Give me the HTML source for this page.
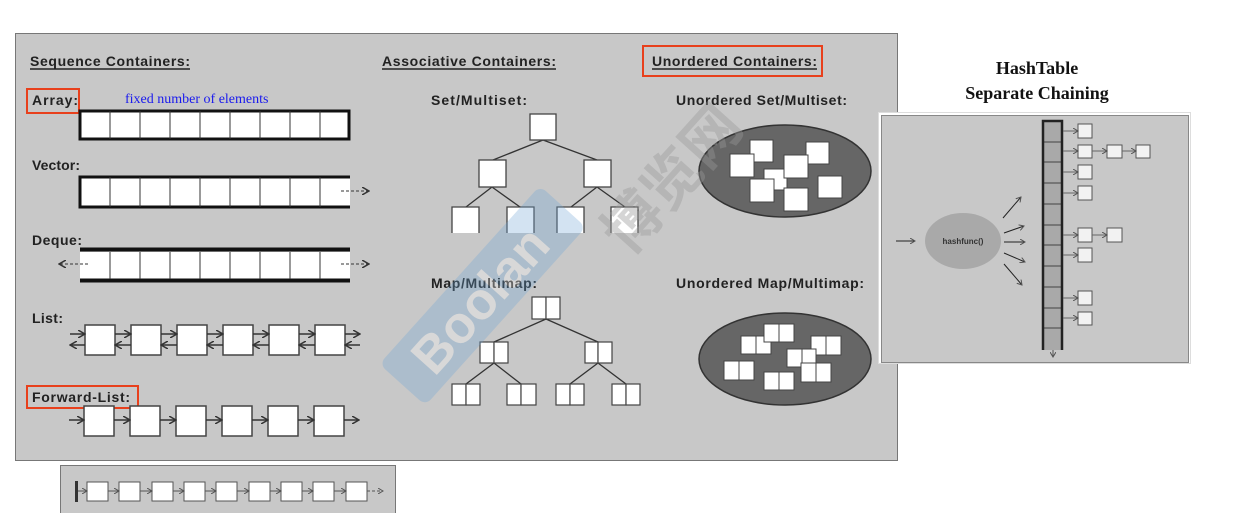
<!DOCTYPE html>
<html><head><meta charset="utf-8"><style>
html,body{margin:0;padding:0;background:#fff;width:1244px;height:513px;overflow:hidden}
.s{font-family:"Liberation Sans",Arial,sans-serif}
</style></head><body>
<svg width="1244" height="513" viewBox="0 0 1244 513" xmlns="http://www.w3.org/2000/svg">
<defs>
<marker id="ah" markerWidth="8" markerHeight="8" refX="7" refY="4" orient="auto" markerUnits="userSpaceOnUse"><path d="M0,0 L7,4 L0,8" fill="none" stroke="#333" stroke-width="1.5"/></marker>
<marker id="as" markerWidth="6" markerHeight="6" refX="5" refY="3" orient="auto" markerUnits="userSpaceOnUse"><path d="M0,0 L5,3 L0,6" fill="none" stroke="#555" stroke-width="1"/></marker>
</defs>
<rect x="15.5" y="33.5" width="882" height="427" fill="#c8c8c8" stroke="#777" stroke-width="1"/>
<rect x="60.5" y="465.5" width="335" height="50" fill="#c8c8c8" stroke="#777"/>
<g font-weight="bold" font-size="14" fill="#222" style="font-family:'Liberation Sans',Arial,sans-serif" lengthAdjust="spacingAndGlyphs">
<text x="30" y="66" textLength="160">Sequence Containers:</text>
<text x="382" y="66" textLength="174">Associative Containers:</text>
<text x="652" y="66" textLength="165">Unordered Containers:</text>
<text x="32" y="105" textLength="46">Array:</text>
<text x="32" y="170" textLength="48">Vector:</text>
<text x="32" y="245" textLength="50">Deque:</text>
<text x="32" y="323" textLength="31">List:</text>
<text x="32" y="402" textLength="98">Forward-List:</text>
<text x="431" y="105" textLength="96">Set/Multiset:</text>
<text x="676" y="105" textLength="171">Unordered Set/Multiset:</text>
<text x="431" y="288" textLength="106">Map/Multimap:</text>
<text x="676" y="288" textLength="188">Unordered Map/Multimap:</text>
</g>
<line x1="30" y1="69" x2="190" y2="69" stroke="#222" stroke-width="1.5"/>
<line x1="382" y1="69" x2="556" y2="69" stroke="#222" stroke-width="1.5"/>
<line x1="652" y1="69" x2="817" y2="69" stroke="#222" stroke-width="1.5"/>
<rect x="643" y="46" width="179" height="30" fill="none" stroke="#e8401c" stroke-width="2"/>
<rect x="27" y="89" width="52" height="24" fill="none" stroke="#e8401c" stroke-width="2"/>
<rect x="27" y="386" width="111" height="22" fill="none" stroke="#e8401c" stroke-width="2"/>
<text x="125" y="103" font-size="14" fill="#1a1aee" style="font-family:'Liberation Serif',serif">fixed number of elements</text>
<rect x="80" y="111" width="269" height="28" fill="#fff" stroke="#111" stroke-width="3"/>
<g stroke="#333" stroke-width="1">
<line x1="110" y1="111" x2="110" y2="139"/><line x1="140" y1="111" x2="140" y2="139"/><line x1="170" y1="111" x2="170" y2="139"/><line x1="200" y1="111" x2="200" y2="139"/><line x1="230" y1="111" x2="230" y2="139"/><line x1="260" y1="111" x2="260" y2="139"/><line x1="290" y1="111" x2="290" y2="139"/><line x1="320" y1="111" x2="320" y2="139"/>
</g>
<rect x="80" y="177" width="270" height="30" fill="#fff"/>
<path d="M350,177 H80 V207 H350" fill="none" stroke="#111" stroke-width="3"/>
<g stroke="#333" stroke-width="1">
<line x1="110" y1="177" x2="110" y2="207"/><line x1="140" y1="177" x2="140" y2="207"/><line x1="170" y1="177" x2="170" y2="207"/><line x1="200" y1="177" x2="200" y2="207"/><line x1="230" y1="177" x2="230" y2="207"/><line x1="260" y1="177" x2="260" y2="207"/><line x1="290" y1="177" x2="290" y2="207"/><line x1="320" y1="177" x2="320" y2="207"/>
</g>
<line x1="341" y1="191" x2="369" y2="191" stroke="#333" stroke-dasharray="3,2" marker-end="url(#ah)"/>
<rect x="80" y="252" width="270" height="27" fill="#fff"/>
<line x1="80" y1="249.5" x2="350" y2="249.5" stroke="#111" stroke-width="4"/>
<line x1="80" y1="280.5" x2="350" y2="280.5" stroke="#111" stroke-width="4"/>
<g stroke="#333" stroke-width="1">
<line x1="110" y1="252" x2="110" y2="279"/><line x1="140" y1="252" x2="140" y2="279"/><line x1="170" y1="252" x2="170" y2="279"/><line x1="200" y1="252" x2="200" y2="279"/><line x1="230" y1="252" x2="230" y2="279"/><line x1="260" y1="252" x2="260" y2="279"/><line x1="290" y1="252" x2="290" y2="279"/><line x1="320" y1="252" x2="320" y2="279"/>
</g>
<line x1="88" y1="264" x2="59" y2="264" stroke="#333" stroke-dasharray="3,2" marker-end="url(#ah)"/>
<line x1="341" y1="264" x2="369" y2="264" stroke="#333" stroke-dasharray="3,2" marker-end="url(#ah)"/>
<g stroke="#444" stroke-width="1.5" fill="#fff">
<rect x="85" y="325" width="30" height="30"/><rect x="131" y="325" width="30" height="30"/><rect x="177" y="325" width="30" height="30"/><rect x="223" y="325" width="30" height="30"/><rect x="269" y="325" width="30" height="30"/><rect x="315" y="325" width="30" height="30"/>
</g>
<g stroke="#333" stroke-width="1.5" fill="none">
<line x1="70" y1="334" x2="85" y2="334" marker-end="url(#ah)"/><line x1="85" y1="345" x2="70" y2="345" marker-end="url(#ah)"/>
<line x1="115" y1="334" x2="131" y2="334" marker-end="url(#ah)"/><line x1="131" y1="345" x2="115" y2="345" marker-end="url(#ah)"/>
<line x1="161" y1="334" x2="177" y2="334" marker-end="url(#ah)"/><line x1="177" y1="345" x2="161" y2="345" marker-end="url(#ah)"/>
<line x1="207" y1="334" x2="223" y2="334" marker-end="url(#ah)"/><line x1="223" y1="345" x2="207" y2="345" marker-end="url(#ah)"/>
<line x1="253" y1="334" x2="269" y2="334" marker-end="url(#ah)"/><line x1="269" y1="345" x2="253" y2="345" marker-end="url(#ah)"/>
<line x1="299" y1="334" x2="315" y2="334" marker-end="url(#ah)"/><line x1="315" y1="345" x2="299" y2="345" marker-end="url(#ah)"/>
<line x1="345" y1="334" x2="360" y2="334" marker-end="url(#ah)"/><line x1="360" y1="345" x2="345" y2="345" marker-end="url(#ah)"/>
</g>
<g stroke="#444" stroke-width="1.5" fill="#fff">
<rect x="84" y="406" width="30" height="30"/><rect x="130" y="406" width="30" height="30"/><rect x="176" y="406" width="30" height="30"/><rect x="222" y="406" width="30" height="30"/><rect x="268" y="406" width="30" height="30"/><rect x="314" y="406" width="30" height="30"/>
</g>
<g stroke="#333" stroke-width="1.5">
<line x1="69" y1="420" x2="84" y2="420" marker-end="url(#ah)"/><line x1="114" y1="420" x2="130" y2="420" marker-end="url(#ah)"/><line x1="160" y1="420" x2="176" y2="420" marker-end="url(#ah)"/><line x1="206" y1="420" x2="222" y2="420" marker-end="url(#ah)"/><line x1="252" y1="420" x2="268" y2="420" marker-end="url(#ah)"/><line x1="298" y1="420" x2="314" y2="420" marker-end="url(#ah)"/><line x1="344" y1="420" x2="359" y2="420" marker-end="url(#ah)"/>
</g>
<rect x="75" y="481" width="3" height="21" fill="#333"/>
<g stroke="#555" stroke-width="1" fill="#fff">
<rect x="87" y="482" width="21" height="19"/><rect x="119" y="482" width="21" height="19"/><rect x="152" y="482" width="21" height="19"/><rect x="184" y="482" width="21" height="19"/><rect x="216" y="482" width="21" height="19"/><rect x="249" y="482" width="21" height="19"/><rect x="281" y="482" width="21" height="19"/><rect x="313" y="482" width="21" height="19"/><rect x="346" y="482" width="21" height="19"/>
</g>
<g stroke="#555" stroke-width="1">
<line x1="78" y1="491" x2="87" y2="491" marker-end="url(#as)"/><line x1="108" y1="491" x2="119" y2="491" marker-end="url(#as)"/><line x1="140" y1="491" x2="152" y2="491" marker-end="url(#as)"/><line x1="173" y1="491" x2="184" y2="491" marker-end="url(#as)"/><line x1="205" y1="491" x2="216" y2="491" marker-end="url(#as)"/><line x1="237" y1="491" x2="249" y2="491" marker-end="url(#as)"/><line x1="270" y1="491" x2="281" y2="491" marker-end="url(#as)"/><line x1="302" y1="491" x2="313" y2="491" marker-end="url(#as)"/><line x1="334" y1="491" x2="346" y2="491" marker-end="url(#as)"/><line x1="367" y1="491" x2="383" y2="491" stroke-dasharray="3,2" marker-end="url(#as)"/>
</g>
<g stroke="#333" stroke-width="1.3">
<line x1="543" y1="140" x2="493" y2="160"/><line x1="543" y1="140" x2="597" y2="160"/>
<line x1="492" y1="187" x2="466" y2="207"/><line x1="492" y1="187" x2="520" y2="207"/>
<line x1="597" y1="187" x2="571" y2="207"/><line x1="597" y1="187" x2="625" y2="207"/>
</g>
<g stroke="#444" stroke-width="1.3" fill="#fff">
<rect x="530" y="114" width="26" height="26"/><rect x="479" y="160" width="27" height="27"/><rect x="584" y="160" width="27" height="27"/>
<path d="M452,233 V207 H479 V233"/><path d="M507,233 V207 H534 V233"/><path d="M557,233 V207 H584 V233"/><path d="M611,233 V207 H638 V233"/>
</g>
<g stroke="#333" stroke-width="1.3">
<line x1="546" y1="319" x2="494" y2="342"/><line x1="546" y1="319" x2="598" y2="342"/>
<line x1="494" y1="363" x2="466" y2="384"/><line x1="494" y1="363" x2="521" y2="384"/>
<line x1="598" y1="363" x2="570" y2="384"/><line x1="598" y1="363" x2="626" y2="384"/>
</g>
<g stroke="#444" stroke-width="1.2" fill="#fff">
<rect x="532" y="297" width="14" height="22"/><rect x="546" y="297" width="14" height="22"/>
<rect x="480" y="342" width="14" height="21"/><rect x="494" y="342" width="14" height="21"/>
<rect x="585" y="342" width="13" height="21"/><rect x="598" y="342" width="14" height="21"/>
<rect x="452" y="384" width="14" height="21"/><rect x="466" y="384" width="14" height="21"/>
<rect x="507" y="384" width="14" height="21"/><rect x="521" y="384" width="15" height="21"/>
<rect x="556" y="384" width="14" height="21"/><rect x="570" y="384" width="14" height="21"/>
<rect x="612" y="384" width="14" height="21"/><rect x="626" y="384" width="14" height="21"/>
</g>
<ellipse cx="785" cy="171" rx="86" ry="46" fill="#666" stroke="#333" stroke-width="1.5"/>
<g fill="#fff" stroke="#444" stroke-width="1">
<rect x="750" y="140" width="23" height="22"/><rect x="806" y="142" width="23" height="22"/><rect x="730" y="154" width="24" height="23"/><rect x="764" y="169" width="23" height="21"/><rect x="784" y="155" width="24" height="23"/><rect x="818" y="176" width="24" height="22"/><rect x="750" y="179" width="24" height="23"/><rect x="784" y="188" width="24" height="23"/>
</g>
<ellipse cx="785" cy="359" rx="86" ry="46" fill="#666" stroke="#333" stroke-width="1.5"/>
<g fill="#fff" stroke="#444" stroke-width="1">
<rect x="741" y="336" width="15" height="18"/><rect x="756" y="336" width="15" height="18"/>
<rect x="764" y="324" width="15" height="18"/><rect x="779" y="324" width="15" height="18"/>
<rect x="811" y="336" width="15" height="19"/><rect x="826" y="336" width="15" height="19"/>
<rect x="787" y="349" width="15" height="18"/><rect x="802" y="349" width="14" height="18"/>
<rect x="724" y="361" width="15" height="19"/><rect x="739" y="361" width="15" height="19"/>
<rect x="801" y="363" width="15" height="19"/><rect x="816" y="363" width="15" height="19"/>
<rect x="764" y="372" width="15" height="18"/><rect x="779" y="372" width="15" height="18"/>
</g>
<g transform="rotate(-48 480 300)" opacity="0.3">
<rect x="365" y="268" width="240" height="62" rx="8" fill="#6fa6d6"/>
<text x="392" y="318" font-size="52" font-weight="bold" fill="#fff" style="font-family:'Liberation Sans',sans-serif">Boolan</text>
</g>
<text x="590" y="230" font-size="58" font-weight="bold" fill="#999" opacity="0.4" transform="rotate(-48 640 200)" style="font-family:'Noto Sans CJK SC',sans-serif">博览网</text>
<text x="1037" y="74" text-anchor="middle" font-weight="bold" font-size="18" fill="#111" style="font-family:'Liberation Serif',serif;font-weight:bold">HashTable</text>
<text x="1037" y="99" text-anchor="middle" font-weight="bold" font-size="18" fill="#111" style="font-family:'Liberation Serif',serif;font-weight:bold">Separate Chaining</text>
<rect x="878.5" y="112.5" width="312" height="251" fill="#fff" stroke="#ddd"/>
<rect x="881.5" y="115.5" width="307" height="247" fill="#c8c8c8" stroke="#888"/>
<line x1="896" y1="241" x2="915" y2="241" stroke="#222" marker-end="url(#as)"/>
<ellipse cx="963" cy="241" rx="38" ry="28" fill="#a9a9a9"/>
<text x="963" y="244" text-anchor="middle" font-size="8" font-weight="bold" fill="#333" style="font-family:'Liberation Sans',sans-serif">hashfunc()</text>
<g stroke="#222" stroke-width="1">
<line x1="1003" y1="218" x2="1021" y2="197" marker-end="url(#as)"/>
<line x1="1004" y1="233" x2="1024" y2="226" marker-end="url(#as)"/>
<line x1="1004" y1="242" x2="1025" y2="242" marker-end="url(#as)"/>
<line x1="1004" y1="253" x2="1025" y2="262" marker-end="url(#as)"/>
<line x1="1004" y1="264" x2="1022" y2="285" marker-end="url(#as)"/>
</g>
<rect x="1043" y="121" width="19" height="229" fill="#a9a9a9"/>
<g stroke="#444" stroke-width="1">
<line x1="1043" y1="142" x2="1062" y2="142"/><line x1="1043" y1="162" x2="1062" y2="162"/><line x1="1043" y1="183" x2="1062" y2="183"/><line x1="1043" y1="204" x2="1062" y2="204"/><line x1="1043" y1="225" x2="1062" y2="225"/><line x1="1043" y1="245" x2="1062" y2="245"/><line x1="1043" y1="266" x2="1062" y2="266"/><line x1="1043" y1="287" x2="1062" y2="287"/><line x1="1043" y1="308" x2="1062" y2="308"/><line x1="1043" y1="328" x2="1062" y2="328"/>
</g>
<path d="M1043,350 V121 H1062 V350" fill="none" stroke="#222" stroke-width="2.5"/>
<line x1="1053" y1="350" x2="1053" y2="357" stroke="#555" marker-end="url(#as)"/>
<g fill="#f2f2f2" stroke="#555" stroke-width="1">
<rect x="1078" y="124" width="14" height="14"/>
<rect x="1078" y="145" width="14" height="13"/><rect x="1107" y="145" width="15" height="13"/><rect x="1136" y="145" width="14" height="13"/>
<rect x="1078" y="165" width="14" height="14"/>
<rect x="1078" y="186" width="14" height="14"/>
<rect x="1078" y="228" width="14" height="14"/><rect x="1107" y="228" width="15" height="14"/>
<rect x="1078" y="248" width="14" height="14"/>
<rect x="1078" y="291" width="14" height="14"/>
<rect x="1078" y="312" width="14" height="13"/>
</g>
<g stroke="#666" stroke-width="1">
<line x1="1063" y1="131" x2="1078" y2="131" marker-end="url(#as)"/>
<line x1="1063" y1="151" x2="1078" y2="151" marker-end="url(#as)"/><line x1="1092" y1="151" x2="1107" y2="151" marker-end="url(#as)"/><line x1="1122" y1="151" x2="1136" y2="151" marker-end="url(#as)"/>
<line x1="1063" y1="172" x2="1078" y2="172" marker-end="url(#as)"/>
<line x1="1063" y1="193" x2="1078" y2="193" marker-end="url(#as)"/>
<line x1="1063" y1="235" x2="1078" y2="235" marker-end="url(#as)"/><line x1="1092" y1="235" x2="1107" y2="235" marker-end="url(#as)"/>
<line x1="1063" y1="255" x2="1078" y2="255" marker-end="url(#as)"/>
<line x1="1063" y1="298" x2="1078" y2="298" marker-end="url(#as)"/>
<line x1="1063" y1="318" x2="1078" y2="318" marker-end="url(#as)"/>
</g>
</svg>
</body></html>
